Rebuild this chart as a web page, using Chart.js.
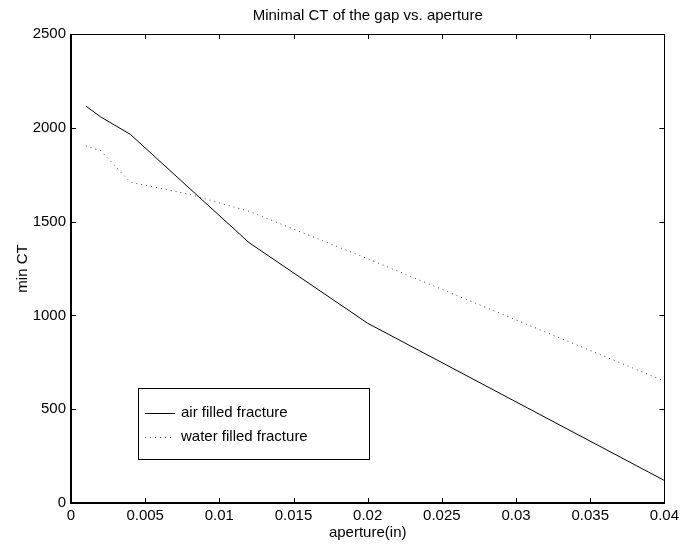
<!DOCTYPE html>
<html>
<head>
<meta charset="utf-8">
<script src="https://cdn.jsdelivr.net/npm/chart.js@4.4.1/dist/chart.umd.min.js"></script>
<style>
  html, body { margin: 0; padding: 0; background: #fff; }
  #wrap { width: 683px; height: 544px; }
</style>
</head>
<body>
<div id="wrap"><canvas id="ctChart" width="683" height="544"></canvas></div>
<script>
// aperture values (in) and minimal CT
const airAperture = [0.001, 0.002, 0.004, 0.012, 0.02, 0.04];
const airCT = [2116, 2058, 1965, 1388, 958, 120];
const waterAperture = [0.001, 0.002, 0.004, 0.008, 0.012, 0.02, 0.04];
const waterCT = [1903, 1878, 1710, 1645, 1555, 1302, 650];

const xTicks = [0, 0.005, 0.01, 0.015, 0.02, 0.025, 0.03, 0.035, 0.04];
const yTicks = [0, 500, 1000, 1500, 2000, 2500];

const titleText = 'Minimal CT of the gap vs. aperture';
const xTitle = 'aperture(in)';
const yTitle = 'min CT';
const seriesLabels = ['air filled fracture', 'water filled fracture'];

const FONT = '"Liberation Sans", Arial, Helvetica, sans-serif';

function toPoints(xs, ys) {
  return xs.map((x, i) => ({ x: x, y: ys[i] }));
}

// matlab-style box, inward ticks, title, axis labels and legend
const matlabFrame = {
  id: 'matlabFrame',
  afterDraw(chart) {
    const ctx = chart.ctx;
    const a = chart.chartArea;
    const xs = chart.scales.x;
    const ys = chart.scales.y;
    const tl = 5;
    ctx.save();
    ctx.strokeStyle = '#000';
    ctx.lineWidth = 1;
    ctx.strokeRect(Math.round(a.left) + 0.5, Math.round(a.top) + 0.5,
      Math.round(a.right - a.left), Math.round(a.bottom - a.top));
    // thicker bottom / left axes
    ctx.lineWidth = 2;
    ctx.beginPath();
    ctx.moveTo(Math.round(a.left), Math.round(a.top));
    ctx.lineTo(Math.round(a.left), Math.round(a.bottom));
    ctx.lineTo(Math.round(a.right), Math.round(a.bottom));
    ctx.stroke();
    ctx.lineWidth = 1;
    ctx.beginPath();
    xTicks.forEach(v => {
      const px = Math.round(xs.getPixelForValue(v)) + 0.5;
      ctx.moveTo(px, a.bottom); ctx.lineTo(px, a.bottom - tl);
      ctx.moveTo(px, a.top); ctx.lineTo(px, a.top + tl);
    });
    yTicks.forEach(v => {
      const py = Math.round(ys.getPixelForValue(v)) + 0.5;
      ctx.moveTo(a.left, py); ctx.lineTo(a.left + tl, py);
      ctx.moveTo(a.right, py); ctx.lineTo(a.right - tl, py);
    });
    ctx.stroke();

    ctx.fillStyle = '#000';
    ctx.font = '15px ' + FONT;
    ctx.textAlign = 'center';
    ctx.textBaseline = 'middle';
    ctx.fillText(titleText, (a.left + a.right) / 2, 16);
    ctx.fillText(xTitle, (a.left + a.right) / 2, 533);
    ctx.save();
    ctx.translate(23, (a.top + a.bottom) / 2);
    ctx.rotate(-Math.PI / 2);
    ctx.fillText(yTitle, 0, 0);
    ctx.restore();

    // legend box
    const lx = 138, ly = 388, lw = 231, lh = 71;
    ctx.fillStyle = '#fff';
    ctx.fillRect(lx, ly, lw, lh);
    ctx.strokeStyle = '#000';
    ctx.lineWidth = 1;
    ctx.strokeRect(lx + 0.5, ly + 0.5, lw, lh);
    chart.data.datasets.forEach((ds, i) => {
      const ry = ly + 25 + i * 24;
      ctx.strokeStyle = ds.borderColor;
      ctx.lineWidth = ds.borderWidth;
      ctx.setLineDash(ds.borderDash || []);
      ctx.beginPath();
      ctx.moveTo(145, ry + 0.5);
      ctx.lineTo(175, ry + 0.5);
      ctx.stroke();
      ctx.setLineDash([]);
      ctx.fillStyle = '#000';
      ctx.textAlign = 'left';
      ctx.fillText(ds.label, 181, ry);
    });
    ctx.restore();
  }
};

new Chart(document.getElementById('ctChart'), {
  type: 'line',
  data: {
    datasets: [
      {
        label: seriesLabels[0],
        data: toPoints(airAperture, airCT),
        borderColor: '#000',
        borderWidth: 1,
        pointRadius: 0,
        tension: 0,
        fill: false
      },
      {
        label: seriesLabels[1],
        data: toPoints(waterAperture, waterCT),
        borderColor: '#444',
        borderWidth: 1,
        borderDash: [1, 4],
        pointRadius: 0,
        tension: 0,
        fill: false
      }
    ]
  },
  options: {
    responsive: false,
    animation: false,
    layout: { padding: { top: 34, right: 16, left: 0, bottom: 0 } },
    plugins: {
      legend: { display: false },
      tooltip: { enabled: false },
      title: { display: false }
    },
    scales: {
      x: {
        type: 'linear',
        min: 0,
        max: 0.04,
        afterFit(scale) { scale.height = 41; },
        afterBuildTicks(scale) { scale.ticks = xTicks.map(v => ({ value: v })); },
        grid: { display: false, drawTicks: false },
        border: { display: false },
        ticks: {
          color: '#000',
          padding: 4,
          maxRotation: 0,
          font: { family: FONT, size: 15 },
          callback: v => String(Number(v.toFixed(3)))
        }
      },
      y: {
        type: 'linear',
        min: 0,
        max: 2500,
        afterFit(scale) { scale.width = 71; },
        afterBuildTicks(scale) { scale.ticks = yTicks.map(v => ({ value: v })); },
        grid: { display: false, drawTicks: false },
        border: { display: false },
        ticks: {
          color: '#000',
          padding: 5,
          font: { family: FONT, size: 15 },
          callback: v => String(v)
        }
      }
    }
  },
  plugins: [matlabFrame]
});
</script>
</body>
</html>
